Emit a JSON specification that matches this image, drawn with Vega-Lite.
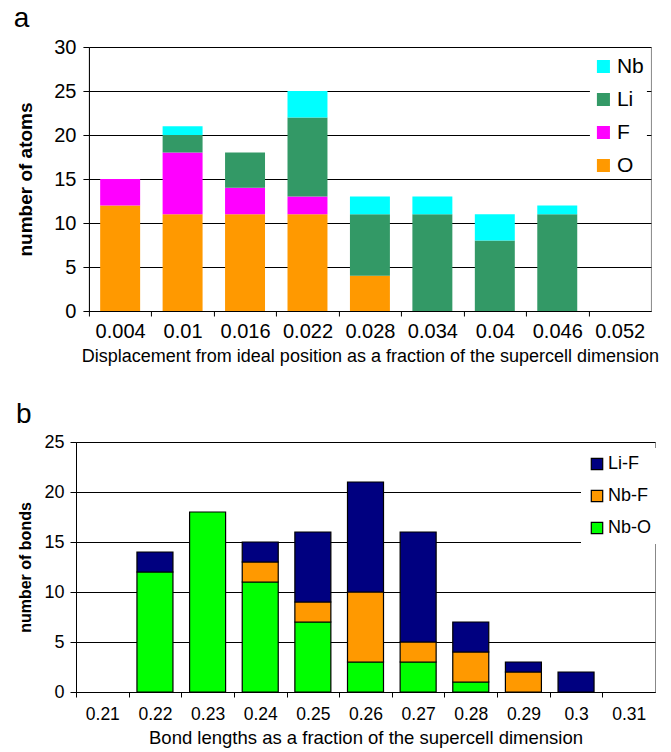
{
  "$schema": "https://vega.github.io/schema/vega-lite/v6.json",
  "config": {"font": "Liberation Sans", "view": {"stroke": "#888888", "strokeWidth": 1}},
  "padding": {"left": 0, "top": 4, "right": 0, "bottom": 0},
  "spacing": 34,
  "center": true,
  "resolve": {"scale": {"color": "independent"}, "legend": {"color": "independent"}},
  "vconcat": [
    {
      "width": 562,
      "height": 264,
      "title": {"text": "a", "anchor": "start", "frame": "bounds", "fontSize": 28, "fontWeight": "normal", "color": "black", "offset": 4, "dx": -3},
      "data": {"values": [
        {"disp": "0.004", "atom": "O", "count": 12}, {"disp": "0.004", "atom": "F", "count": 3},
        {"disp": "0.01", "atom": "O", "count": 11}, {"disp": "0.01", "atom": "F", "count": 7}, {"disp": "0.01", "atom": "Li", "count": 2}, {"disp": "0.01", "atom": "Nb", "count": 1},
        {"disp": "0.016", "atom": "O", "count": 11}, {"disp": "0.016", "atom": "F", "count": 3}, {"disp": "0.016", "atom": "Li", "count": 4},
        {"disp": "0.022", "atom": "O", "count": 11}, {"disp": "0.022", "atom": "F", "count": 2}, {"disp": "0.022", "atom": "Li", "count": 9}, {"disp": "0.022", "atom": "Nb", "count": 3},
        {"disp": "0.028", "atom": "O", "count": 4}, {"disp": "0.028", "atom": "Li", "count": 7}, {"disp": "0.028", "atom": "Nb", "count": 2},
        {"disp": "0.034", "atom": "Li", "count": 11}, {"disp": "0.034", "atom": "Nb", "count": 2},
        {"disp": "0.04", "atom": "Li", "count": 8}, {"disp": "0.04", "atom": "Nb", "count": 3},
        {"disp": "0.046", "atom": "Li", "count": 11}, {"disp": "0.046", "atom": "Nb", "count": 1}
      ]},
      "transform": [{"calculate": "indexof(['O','F','Li','Nb'], datum.atom)", "as": "stackOrder"}],
      "mark": {"type": "bar"},
      "encoding": {
        "x": {
          "field": "disp", "type": "ordinal",
          "scale": {"domain": ["0.004", "0.01", "0.016", "0.022", "0.028", "0.034", "0.04", "0.046", "0.052"], "paddingInner": 0.36, "paddingOuter": 0.18},
          "axis": {
            "title": "Displacement from ideal position as a fraction of the supercell dimension",
            "titleFontSize": 18, "titleFontWeight": "normal", "titleColor": "black", "titlePadding": 6,
            "labelFontSize": 20, "labelColor": "black", "labelAngle": 0, "labelPadding": 5,
            "tickOffset": -31.22, "labelOffset": 31.22, "tickSize": 5, "tickColor": "black",
            "domainColor": "black", "grid": false
          }
        },
        "y": {
          "field": "count", "type": "quantitative", "stack": "zero",
          "scale": {"domain": [0, 30], "nice": false},
          "axis": {
            "title": "number of atoms", "titleFontSize": 19, "titleFontWeight": "bold", "titleColor": "black", "titlePadding": 18,
            "values": [0, 5, 10, 15, 20, 25, 30],
            "labelFontSize": 20, "labelColor": "black", "labelPadding": 7,
            "tickSize": 6, "tickColor": "black", "domainColor": "black",
            "grid": true, "gridColor": "black", "gridOpacity": 1
          }
        },
        "color": {
          "field": "atom", "type": "nominal",
          "scale": {"domain": ["Nb", "Li", "F", "O"], "range": ["#00FFFF", "#339966", "#FF00FF", "#FF9900"]},
          "legend": {
            "title": null, "orient": "none", "legendX": 501, "legendY": 6,
            "fillColor": "white", "padding": 3, "symbolType": "square", "symbolSize": 170,
            "symbolStrokeWidth": 0, "labelFontSize": 21, "labelColor": "black", "labelOffset": 3, "rowPadding": 11
          }
        },
        "order": {"field": "stackOrder"}
      }
    },
    {
      "width": 579,
      "height": 250,
      "title": {"text": "b", "anchor": "start", "frame": "group", "fontSize": 28, "fontWeight": "normal", "color": "black", "offset": 4, "dx": -60},
      "data": {"values": [
        {"len": "0.22", "bond": "Nb-O", "count": 12}, {"len": "0.22", "bond": "Li-F", "count": 2},
        {"len": "0.23", "bond": "Nb-O", "count": 18},
        {"len": "0.24", "bond": "Nb-O", "count": 11}, {"len": "0.24", "bond": "Nb-F", "count": 2}, {"len": "0.24", "bond": "Li-F", "count": 2},
        {"len": "0.25", "bond": "Nb-O", "count": 7}, {"len": "0.25", "bond": "Nb-F", "count": 2}, {"len": "0.25", "bond": "Li-F", "count": 7},
        {"len": "0.26", "bond": "Nb-O", "count": 3}, {"len": "0.26", "bond": "Nb-F", "count": 7}, {"len": "0.26", "bond": "Li-F", "count": 11},
        {"len": "0.27", "bond": "Nb-O", "count": 3}, {"len": "0.27", "bond": "Nb-F", "count": 2}, {"len": "0.27", "bond": "Li-F", "count": 11},
        {"len": "0.28", "bond": "Nb-O", "count": 1}, {"len": "0.28", "bond": "Nb-F", "count": 3}, {"len": "0.28", "bond": "Li-F", "count": 3},
        {"len": "0.29", "bond": "Nb-F", "count": 2}, {"len": "0.29", "bond": "Li-F", "count": 1},
        {"len": "0.3", "bond": "Li-F", "count": 2}
      ]},
      "resolve": {"axis": {"y": "independent"}},
      "layer": [
        {
          "mark": {"type": "bar", "stroke": "black", "strokeWidth": 1.2},
          "encoding": {
            "x": {
              "field": "len", "type": "ordinal",
              "scale": {"domain": ["0.21", "0.22", "0.23", "0.24", "0.25", "0.26", "0.27", "0.28", "0.29", "0.3", "0.31"], "paddingInner": 0.316, "paddingOuter": 0.158},
              "axis": {
                "title": "Bond lengths as a fraction of the supercell dimension",
                "titleFontSize": 18.5, "titleFontWeight": "normal", "titleColor": "black", "titlePadding": 6,
                "labelFontSize": 17.5, "labelColor": "black", "labelAngle": 0, "labelPadding": 8,
                "tickOffset": -26.32, "labelOffset": 26.32, "tickSize": 5, "tickColor": "black",
                "domainColor": "black", "grid": false
              }
            },
            "y": {
              "field": "count", "type": "quantitative", "stack": "zero",
              "scale": {"domain": [0, 25], "nice": false},
              "axis": {
                "orient": "left",
                "title": "number of bonds", "titleFontSize": 16, "titleFontWeight": "bold", "titleColor": "black", "titlePadding": 10,
                "values": [0, 5, 10, 15, 20, 25],
                "labelFontSize": 18, "labelColor": "black", "labelPadding": 6,
                "tickSize": 6, "tickColor": "black", "domainColor": "black",
                "grid": true, "gridColor": "black", "gridOpacity": 1
              }
            },
            "color": {
              "field": "bond", "type": "nominal",
              "scale": {"domain": ["Li-F", "Nb-F", "Nb-O"], "range": ["#000080", "#FF9900", "#00FF00"]},
              "legend": {
                "title": null, "orient": "none", "legendX": 505, "legendY": 6,
                "fillColor": "white", "padding": 7, "symbolType": "square", "symbolSize": 130,
                "symbolStrokeColor": "black", "symbolStrokeWidth": 1.2, "labelFontSize": 18, "labelColor": "black", "labelOffset": 2, "rowPadding": 14
              }
            },
            "order": {"field": "bond", "sort": "descending"}
          }
        },
        {
          "mark": {"type": "bar", "opacity": 0},
          "encoding": {
            "x": {"field": "len", "type": "ordinal"},
            "y": {
              "field": "count", "type": "quantitative", "stack": "zero",
              "axis": {
                "orient": "right", "title": null, "values": [0],
                "domain": false, "labels": false, "grid": false,
                "ticks": true, "tickSize": 16, "tickColor": "transparent"
              }
            }
          }
        },
        {
          "mark": {"type": "bar", "opacity": 0},
          "encoding": {
            "x": {"field": "len", "type": "ordinal"},
            "y": {
              "field": "count", "type": "quantitative", "stack": "zero",
              "axis": {
                "orient": "left", "title": null, "values": [0],
                "domain": false, "labels": false, "grid": false,
                "ticks": true, "tickSize": 75, "tickColor": "transparent"
              }
            }
          }
        }
      ]
    }
  ]
}
